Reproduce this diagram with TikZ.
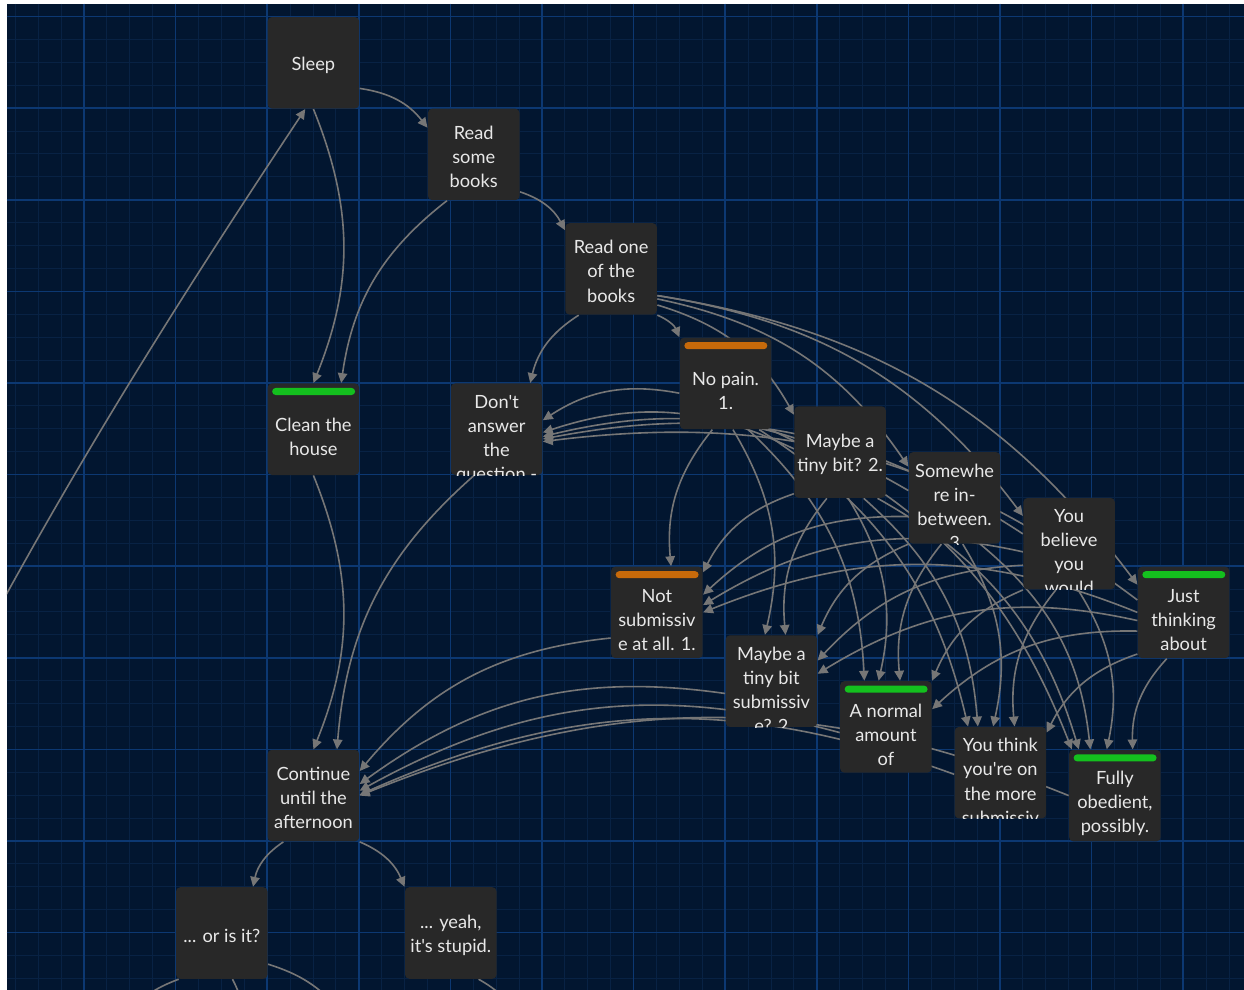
\documentclass[tikz,border=0pt]{standalone}
\usepackage{fontspec}
\newfontfamily\cardfont{Lato}
\usetikzlibrary{arrows.meta,calc}
\definecolor{mapbg}{RGB}{2,22,48}
\definecolor{minorline}{RGB}{8,34,68}
\definecolor{majorline}{RGB}{12,56,114}
\definecolor{cardfill}{RGB}{40,40,40}
\definecolor{cardink}{RGB}{232,232,232}
\definecolor{linkgray}{RGB}{118,118,118}
\definecolor{taggreen}{RGB}{20,192,30}
\definecolor{tagorange}{RGB}{200,106,10}
\pgfdeclarelayer{grid}
\pgfdeclarelayer{links}
\pgfsetlayers{grid,links,main}

\tikzset{
  card/.style={fill=cardfill, rounded corners=2pt, minimum size=1.5cm, inner sep=0pt, anchor=north west},
  cardtext/.style={text=cardink, align=center, inner sep=0pt, font=\cardfont\fontsize{8.5}{11.2}\selectfont},
  link/.style={draw=linkgray, line width=0.75pt, -{Triangle[length=4.6pt,width=4.4pt]}},
}

% arc between two passages, leaving and entering on the line between the centres
\newcommand\linkto[2]{%
  \draw[link] let \p1=(#1.center), \p2=(#2.center),
      \n1={atan2(\y2-\y1,\x2-\x1)}, \n2={\n1+180},
      \n3={ifthenelse(\x2>\x1-0.1,22,-22)}
    in (#1.\n1) to[bend left=\n3] (#2.\n2);}

\begin{document}
\begin{tikzpicture}[x=1.5cm, y=-1.5cm]
\useasboundingbox (0.083,-0.181) rectangle (13.664,10.627);

\begin{pgfonlayer}{grid}
  \fill[white] (0.083,-0.181) rectangle (13.664,10.627);
  \fill[mapbg] (0.159,-0.138) rectangle (13.664,10.627);
  \foreach \i in {1,...,54} \draw[minorline, line width=0.45pt] (\i/4,-0.138) -- (\i/4,10.627);
  \foreach \j in {0,...,42} \draw[minorline, line width=0.45pt] (0.159,\j/4) -- (13.664,\j/4);
  \foreach \i in {1,...,13} \draw[majorline, line width=0.7pt] (\i,-0.138) -- (\i,10.627);
  \foreach \j in {0,...,10} \draw[majorline, line width=0.7pt] (0.159,\j) -- (13.664,\j);
\end{pgfonlayer}

% passages
\node[card] (sleep)    at (3,0)       {};
\node[card] (books)    at (4.75,1)    {};
\node[card] (onebook)  at (6.25,2.25) {};
\node[card] (clean)    at (3,4)       {};
\node[card] (dont)     at (5,4)       {};
\node[card] (nopain)   at (7.5,3.5)   {};
\node[card] (tinybit)  at (8.75,4.25) {};
\node[card] (between)  at (10,4.75)   {};
\node[card] (believe)  at (11.25,5.25){};
\node[card] (thinking) at (12.5,6)    {};
\node[card] (notsub)   at (6.75,6)    {};
\node[card] (subbit)   at (8,6.75)    {};
\node[card] (normal)   at (9.25,7.25) {};
\node[card] (moresub)  at (10.5,7.75) {};
\node[card] (fully)    at (11.75,8)   {};
\node[card] (cont)     at (3,8)       {};
\node[card] (oris)     at (2,9.5)     {};
\node[card] (yeah)     at (4.5,9.5)   {};

% tag bars
\foreach \nm/\col in {nopain/tagorange, notsub/tagorange, clean/taggreen, thinking/taggreen, normal/taggreen, fully/taggreen}
  \fill[\col, rounded corners=1.6pt] ([shift={(0.82mm,-0.82mm)}]\nm.north west) rectangle ([shift={(-0.75mm,-1.97mm)}]\nm.north east);

% texts that fit
\foreach \nm/\drop/\txt in {sleep/0.4/Sleep, books/0.4/{Read\\some\\books}, onebook/0.4/{Read one\\of the\\books},
    nopain/1.25/{No pain.\\1.}, tinybit/0.4/{Maybe a\\tiny bit? 2.}, thinking/1.25/{Just\\thinking\\about},
    clean/1.25/{Clean the\\house}, cont/0.4/{Continue\\until the\\afternoon}, notsub/1.25/{Not\\submissiv\\e at all. 1.},
    normal/1.25/{A normal\\amount\\of}, fully/1.25/{Fully\\obedient,\\possibly.}, oris/0.4/{... or is it?},
    yeah/0.4/{... yeah,\\it's stupid.}}
  \node[cardtext] (\nm-text) at ([yshift=-\drop mm]\nm.center) {\txt};

% texts cut off at the bottom of the card
\foreach \nm/\txt in {dont/{Don't\\answer\\the\\question -}, between/{Somewhe\\re in-\\between.\\3},
    believe/{You\\believe\\you\\would}, subbit/{Maybe a\\tiny bit\\submissiv\\e? 2},
    moresub/{You think\\you're on\\the more\\submissiv}}{
  \begin{scope}
    \clip[rounded corners=2pt] (\nm.north west) rectangle (\nm.south east);
    \node[cardtext, anchor=north] (\nm-text) at ([yshift=-1.9mm]\nm.north) {\txt};
  \end{scope}}

\begin{pgfonlayer}{links}
  \clip (0.159,-0.138) rectangle (13.664,10.627);
  \coordinate (offmap) at (-2.1,10.74);
  \draw[link] (offmap) to[bend left=4] (sleep.-100);
  \linkto{sleep}{books}
  \linkto{sleep}{clean}
  \linkto{books}{clean}
  \linkto{books}{onebook}
  \linkto{onebook}{dont}
  \foreach \q in {nopain,tinybit,between,believe,thinking}{
    \linkto{onebook}{\q}
    \foreach \ans in {dont,notsub,subbit,normal,moresub,fully}{\linkto{\q}{\ans}}}
  \foreach \ans in {clean,dont,notsub,subbit,normal,moresub,fully}{\linkto{\ans}{cont}}
  \linkto{cont}{oris}
  \linkto{cont}{yeah}
  % links running off the bottom edge
  \coordinate (down1) at (1.5,10.85);
  \coordinate (down2) at (2.74,10.85);
  \coordinate (down3) at (3.8,10.85);
  \coordinate (down4) at (5.65,10.79);
  \draw[link, -] (oris.-133) to[bend right=12] (down1);
  \draw[link, -] (oris.-77) to[bend left=8] (down2);
  \draw[link, -] (oris.-34) to[bend left=15] (down3);
  \draw[link, -] (yeah.-59) to[bend left=10] (down4);
\end{pgfonlayer}
\end{tikzpicture}
\end{document}
